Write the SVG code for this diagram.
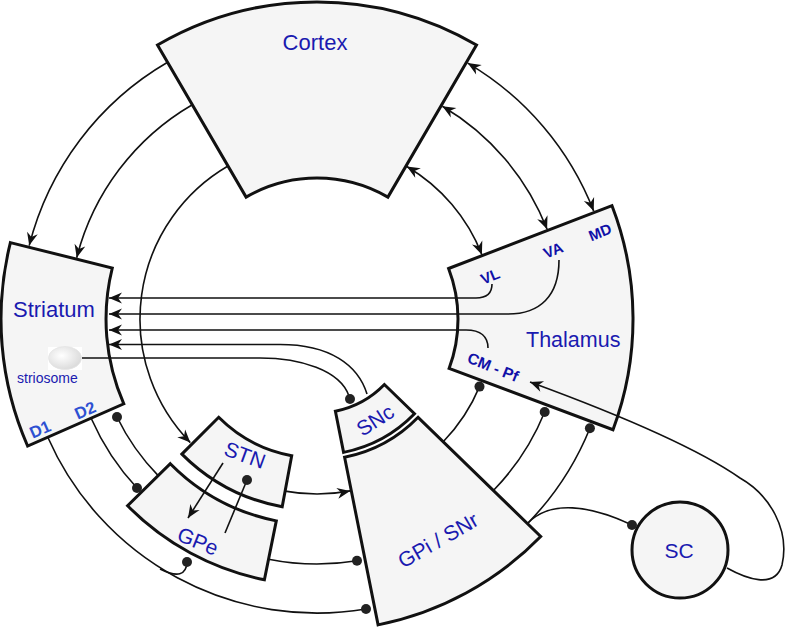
<svg xmlns="http://www.w3.org/2000/svg" width="789" height="630" viewBox="0 0 789 630">
<defs>
<style>
.node{fill:#f5f5f5;stroke:#111;stroke-width:3;stroke-linejoin:miter}
.c{fill:none;stroke:#111;stroke-width:1.6}
.dot{fill:#222}
.lbl{font-family:"Liberation Sans",Arial,sans-serif;fill:#1a1ab0}
.sub{font-family:"Liberation Sans",Arial,sans-serif;font-weight:bold;fill:#1010a8}
.dd{font-family:"Liberation Sans",Arial,sans-serif;font-weight:bold;fill:#2d50d2}
</style>
<marker id="ah" viewBox="-14 -7 15 14" refX="0" refY="0" markerWidth="15" markerHeight="14" markerUnits="userSpaceOnUse" orient="auto-start-reverse">
<path d="M0,0 L-13,-5.5 L-9,0 L-13,5.5 Z" fill="#111"/>
</marker>
<radialGradient id="strio" cx="0.4" cy="0.4" r="0.7">
<stop offset="0" stop-color="#ffffff"/>
<stop offset="1" stop-color="#d6d6d6"/>
</radialGradient>
</defs>

<g id="cortex">
<path class="node" d="M157.5,45 A317,317 0 0,1 476.5,45 L387.9,197.1 A141,141 0 0,0 246.1,197.1 Z"/>
<text class="lbl" x="315" y="50" font-size="22" text-anchor="middle">Cortex</text>
</g>

<g id="striatum">
<path class="node" d="M10.4,242.6 L112.3,268 A211,211 0 0,0 123.8,403.8 L27.6,446 A316,316 0 0,1 10.4,242.6 Z"/>
<text class="lbl" x="13" y="317" font-size="22">Striatum</text>
<rect x="48" y="347" width="34" height="23" fill="#fff"/>
<ellipse cx="65" cy="358" rx="16.5" ry="11.5" fill="url(#strio)" stroke="#e4e4e4" stroke-width="0.8"/>
<text class="lbl" x="17" y="383" font-size="14">striosome</text>
<text class="dd" x="40" y="429" font-size="16.5" text-anchor="middle" dominant-baseline="central" transform="rotate(-24 40 429)">D1</text>
<text class="dd" x="85" y="410" font-size="16.5" text-anchor="middle" dominant-baseline="central" transform="rotate(-24 85 410)">D2</text>
</g>

<g id="thalamus">
<path class="node" d="M448.6,268.5 L612,205.7 A316,316 0 0,1 613,429.7 L449.1,368.4 A141,141 0 0,0 448.6,268.5 Z"/>
<text class="lbl" x="526" y="347" font-size="21.5">Thalamus</text>
<text class="sub" x="490" y="276" font-size="15" text-anchor="middle" dominant-baseline="central" transform="rotate(-22 490 276)">VL</text>
<text class="sub" x="553" y="250" font-size="15" text-anchor="middle" dominant-baseline="central" transform="rotate(-22 553 250)">VA</text>
<text class="sub" x="600" y="232" font-size="15" text-anchor="middle" dominant-baseline="central" transform="rotate(-22 600 232)">MD</text>
<text class="sub" x="493" y="367" font-size="15.5" text-anchor="middle" dominant-baseline="central" transform="rotate(22 493 367)">CM - Pf</text>
</g>

<g id="stn">
<path class="node" d="M218.7,417.3 A139,139 0 0,0 291.7,455.7 L282.2,506.8 A191,191 0 0,1 181.9,454.1 Z"/>
<text class="lbl" x="245" y="455" font-size="21" text-anchor="middle" dominant-baseline="central" transform="rotate(20 245 455)">STN</text>
</g>

<g id="gpe">
<path class="node" d="M170.3,463.7 A206,206 0 0,0 276.3,520.9 L264.4,579.8 A266,266 0 0,1 127.6,505.8 Z"/>
<text class="lbl" x="198" y="541" font-size="21" text-anchor="middle" dominant-baseline="central" transform="rotate(22 198 541)">GPe</text>
</g>

<g id="snc">
<path class="node" d="M335.4,411.2 A94,94 0 0,0 384.4,384.5 L414.5,413.8 A136,136 0 0,1 343.6,452.4 Z"/>
<text class="lbl" x="375" y="420" font-size="21" text-anchor="middle" dominant-baseline="central" transform="rotate(-33 375 420)">SNc</text>
</g>

<g id="gpi-snr">
<path class="node" d="M344.6,457.3 A141,141 0 0,0 418.1,417.3 L540.7,536.5 A312,312 0 0,1 378.1,624.9 Z"/>
<text class="lbl" x="438" y="540" font-size="21" text-anchor="middle" dominant-baseline="central" transform="rotate(-30 438 540)">GPi / SNr</text>
</g>

<g id="sc">
<circle class="node" cx="680" cy="550" r="48"/>
<text class="lbl" x="679" y="550" font-size="21" text-anchor="middle" dominant-baseline="central">SC</text>
</g>

<g id="connectors">
<path class="c" d="M167.6,62.3 A297,297 0 0,0 29.2,245.6" marker-end="url(#ah)"/>
<path class="c" d="M192.3,104.7 A248,248 0 0,0 76.7,257.7" marker-end="url(#ah)"/>
<path class="c" d="M228,166 A177,177 0 0,0 190.3,442.6" marker-end="url(#ah)"/>
<path class="c" d="M467.7,63.1 A297,297 0 0,1 593.7,211.1" marker-start="url(#ah)" marker-end="url(#ah)"/>
<path class="c" d="M442.4,106.2 A247,247 0 0,1 547.1,229.3" marker-start="url(#ah)" marker-end="url(#ah)"/>
<path class="c" d="M406.8,166.5 A177,177 0 0,1 481.9,254.7" marker-start="url(#ah)" marker-end="url(#ah)"/>
<path class="c" d="M492,284 Q492,298 476,298 L109,298" marker-end="url(#ah)"/>
<path class="c" d="M559,260 C559,296 540,314 508,314 L109,314" marker-end="url(#ah)"/>
<path class="c" d="M488,348 C488,337 481,330 466,330 L109,330" marker-end="url(#ah)"/>
<path class="c" d="M367,394 C358,365 330,344.5 280,344.5 L109,344.5" marker-end="url(#ah)"/>
<path class="c" d="M82,358 L260,358 C300,358 340,370 349,396"/>
<circle class="dot" cx="350" cy="399" r="5"/>
<path class="c" d="M47.8,437.2 A294,294 0 0,0 366,609"/>
<circle class="dot" cx="366" cy="609" r="5"/>
<path class="c" d="M160,569 Q186,582 187,562"/>
<circle class="dot" cx="187" cy="562" r="5"/>
<path class="c" d="M91.5,419 A247,247 0 0,0 137,488"/>
<circle class="dot" cx="137" cy="488" r="5"/>
<path class="c" d="M158.2,475.6 A223,223 0 0,1 117,417"/>
<circle class="dot" cx="117" cy="417" r="5"/>
<path class="c" d="M268.6,559.2 A245,245 0 0,0 357,560.7"/>
<circle class="dot" cx="357" cy="560.7" r="5"/>
<path class="c" d="M285.1,491.1 A175,175 0 0,0 350.1,490.9" marker-end="url(#ah)"/>
<path class="c" d="M223,463 L188,518" marker-end="url(#ah)"/>
<path class="c" d="M225,533 L247,480"/>
<circle class="dot" cx="247" cy="480" r="5"/>
<path class="c" d="M443.2,441.7 A176,176 0 0,0 479.5,386.6"/>
<circle class="dot" cx="479.5" cy="386.6" r="5"/>
<path class="c" d="M493.4,490.5 A246,246 0 0,0 544.7,412"/>
<circle class="dot" cx="544.7" cy="412" r="5"/>
<path class="c" d="M528,523 A294,294 0 0,0 589.9,428.2"/>
<circle class="dot" cx="589.9" cy="428.2" r="5"/>
<path class="c" d="M528,523 C550,500 590,505 632,525"/>
<circle class="dot" cx="632" cy="525" r="5"/>
<path class="c" d="M727,568 C745,578 775,590 782,565 C790,530 770,495 740,478 C700,450 620,415 530,382" marker-end="url(#ah)"/>
</g>
</svg>
